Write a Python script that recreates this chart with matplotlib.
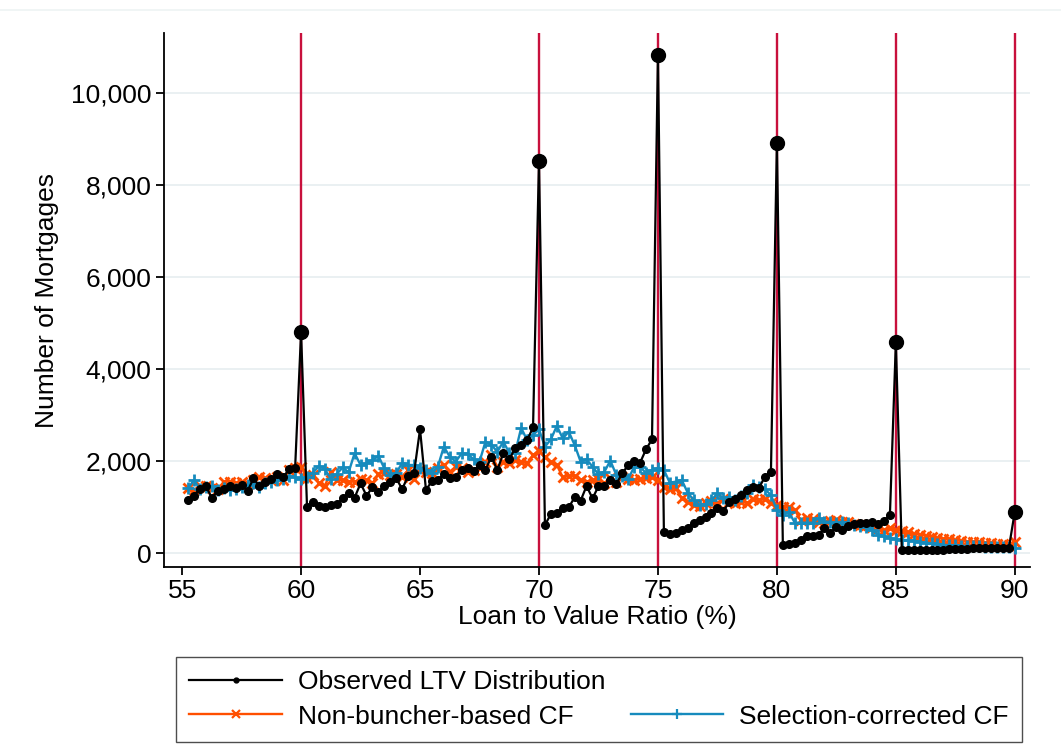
import numpy as np
import matplotlib
matplotlib.use("Agg")
import matplotlib.pyplot as plt
from matplotlib.lines import Line2D
from matplotlib.ticker import StrMethodFormatter

plt.rcParams["font.family"] = ["Liberation Sans", "DejaVu Sans"]

# LTV bins, 0.25 pp wide
ltv = np.arange(55.25, 90.01, 0.25)

observed = [
    1150, 1250, 1400, 1450, 1200, 1350, 1400, 1450, 1420, 1480,
    1350, 1620, 1450, 1550, 1600, 1720, 1650, 1820, 1850, 4800,
    1000, 1110, 1030, 993, 1043, 1065, 1188, 1312, 1203, 1514,
    1247, 1428, 1334, 1457, 1551, 1623, 1391, 1674, 1747, 2689,
    1370, 1565, 1587, 1717, 1638, 1659, 1800, 1841, 1790, 1913,
    1804, 2094, 1804, 2167, 2037, 2276, 2348, 2450, 2730, 8530,
    609, 848, 877, 971, 993, 1210, 1138, 1457, 1188, 1450,
    1457, 1587, 1500, 1732, 1913, 2008, 1964, 2254, 2471, 10830,
    464, 413, 442, 500, 551, 659, 717, 790, 877, 971,
    920, 1100, 1180, 1261, 1370, 1428, 1420, 1659, 1768, 8920,
    174, 196, 225, 283, 370, 370, 391, 536, 442, 572,
    500, 587, 630, 659, 659, 681, 630, 703, 826, 4580,
    60, 55, 60, 65, 60, 70, 75, 70, 80, 85,
    90, 90, 100, 100, 105, 110, 110, 115, 110, 900,
]

non_buncher_cf = [
    1406, 1370, 1457, 1457, 1406, 1384, 1551, 1551, 1514, 1551,
    1500, 1587, 1659, 1623, 1587, 1645, 1587, 1804, 1841, 1877,
    1620, 1700, 1520, 1460, 1768, 1587, 1587, 1551, 1551, 1602,
    1587, 1514, 1717, 1747, 1696, 1717, 1659, 1804, 1602, 1804,
    1768, 1732, 1841, 1913, 1768, 1877, 1841, 1768, 1804, 1841,
    1986, 2131, 1877, 1986, 1949, 2022, 1986, 1949, 2131, 2224,
    2080, 1986, 1913, 1645, 1674, 1674, 1587, 1551, 1587, 1600,
    1514, 1623, 1551, 1659, 1602, 1587, 1602, 1623, 1645, 1587,
    1428, 1384, 1406, 1188, 1116, 1043, 1022, 1080, 1138, 1094,
    1167, 1116, 1080, 1100, 1094, 1167, 1152, 1167, 1080, 1043,
    1007, 993, 935, 717, 754, 732, 681, 659, 703, 717,
    681, 681, 630, 609, 609, 572, 536, 500, 536, 500,
    480, 450, 420, 400, 380, 350, 330, 310, 300, 280,
    260, 250, 240, 230, 220, 210, 200, 190, 180, 240,
]

selection_cf = [
    1406, 1587, 1384, 1428, 1457, 1370, 1406, 1370, 1384, 1428,
    1478, 1529, 1428, 1529, 1551, 1587, 1601, 1674, 1645, 1600,
    1650, 1750, 1890, 1830, 1610, 1720, 1860, 1757, 2170, 1913,
    1949, 2015, 2110, 1841, 1696, 1732, 1964, 1913, 1913, 1841,
    1804, 1732, 1877, 2311, 2094, 1986, 2167, 2152, 2037, 1986,
    2420, 2348, 2203, 2420, 2181, 2181, 2720, 2457, 2565, 2689,
    2311, 2471, 2761, 2493, 2637, 2348, 1986, 2037, 1877, 1710,
    1768, 2008, 1696, 1674, 1602, 1877, 1877, 1732, 1804, 1841,
    1804, 1529, 1551, 1587, 1312, 1152, 1043, 1065, 1152, 1297,
    1188, 1225, 1160, 1250, 1312, 1478, 1428, 1384, 1261, 935,
    826, 898, 659, 659, 659, 659, 754, 681, 681, 645,
    681, 645, 609, 587, 558, 500, 400, 360, 320, 300,
    283, 283, 268, 246, 225, 210, 196, 174, 174, 167,
    159, 152, 152, 152, 138, 138, 138, 138, 123, 101,
]

notches = [60, 70, 75, 80, 85, 90]

BLACK = "#000000"
ORANGE = "#ff4f00"
BLUE = "#168bbd"
RED = "#c8103c"
FS = 19

fig = plt.figure(figsize=(10.61, 7.5), dpi=100)
ax = fig.add_axes([0.1546, 0.244, 0.816, 0.712])

for n in notches:
    ax.axvline(n, color=RED, lw=1.7, zorder=1)

ax.plot(ltv, observed, color=BLACK, lw=1.6, marker="o", ms=5.5, zorder=4)
ax.plot(ltv, non_buncher_cf, color=ORANGE, lw=1.7, marker="x", ms=7,
        mew=2.0, zorder=3)
ax.plot(ltv, selection_cf, color=BLUE, lw=1.7, marker="+", ms=9,
        mew=2.0, zorder=3)

# larger dots on the bunching points at the rate notches
obs = np.array(observed)
at_notch = np.isin(np.round(ltv, 2), notches)
ax.plot(ltv[at_notch], obs[at_notch], ls="none", marker="o", ms=10,
        color=BLACK, zorder=5)

ax.set_xlim(54.24, 90.63)
ax.set_ylim(-304, 11304)
ax.set_xticks([55, 60, 65, 70, 75, 80, 85, 90])
ax.set_yticks([0, 2000, 4000, 6000, 8000, 10000])
ax.yaxis.set_major_formatter(StrMethodFormatter("{x:,.0f}"))
ax.grid(axis="y", color="#eaf0f2", lw=1.4, zorder=0)
ax.set_axisbelow(True)

for side in ["top", "right"]:
    ax.spines[side].set_visible(False)
for side in ["left", "bottom"]:
    ax.spines[side].set_linewidth(1.3)
ax.tick_params(direction="out", length=6, width=1.3, labelsize=FS, pad=3)

ax.set_xlabel("Loan to Value Ratio (%)", fontsize=FS, labelpad=1)
ax.set_ylabel("Number of Mortgages", fontsize=FS, labelpad=9)

handles = [
    Line2D([], [], color=BLACK, lw=1.6, marker="o", ms=3.5),
    Line2D([], [], color=ORANGE, lw=1.7, marker="x", ms=5.5, mew=1.6),
    Line2D([], [], alpha=0),
    Line2D([], [], color=BLUE, lw=1.7, marker="+", ms=6.5, mew=1.6),
]
labels = ["Observed LTV Distribution", "Non-buncher-based CF", "",
          "Selection-corrected CF"]
leg = fig.legend(handles, labels, ncol=2, loc="lower left",
                 bbox_to_anchor=(0.166, 0.011, 0.797, 0.113), mode="expand",
                 fontsize=FS, frameon=True, fancybox=False,
                 handlelength=3.5, handletextpad=0.6, borderpad=0.5,
                 borderaxespad=0, labelspacing=0.4)
leg.get_frame().set_edgecolor("#222222")
leg.get_frame().set_linewidth(1.0)

fig.add_artist(Line2D([0, 1], [0.987, 0.987], color="#eef3f4", lw=1.2))

fig.savefig("out.png", dpi=100)
